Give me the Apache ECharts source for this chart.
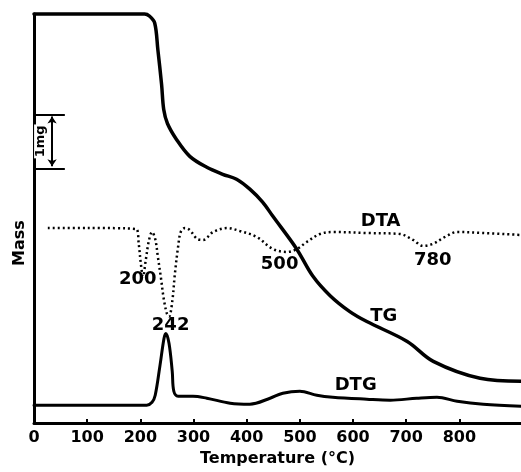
<!DOCTYPE html>
<html>
<head>
<meta charset="utf-8">
<script src="https://cdn.jsdelivr.net/npm/echarts@6/dist/echarts.min.js"></script>
<style>html,body{margin:0;padding:0;background:#fff}#c{width:521px;height:472px}</style>
</head>
<body>
<div id="c"></div>
<script>
// Temperature ticks (°C)
const tickLabels = [0, 100, 200, 300, 400, 500, 600, 700, 800];

// TG (mass, arbitrary units)
const tgTemp = [0, 208, 217, 227, 233, 240, 244, 251, 268, 293, 325, 355, 381, 406, 430, 449, 494, 524, 557, 594, 626, 702, 751, 839, 916];
const tgMass = [411, 411, 409, 402, 375, 340, 315, 301, 285, 268, 257, 250, 245, 235, 222, 208, 175, 148, 128, 112, 102, 82, 62, 45, 42];

// DTG (arbitrary units)
const dtgTemp = [0, 212, 222, 228, 237, 244.5, 248, 254, 260, 263, 271, 299, 325, 369, 406, 444, 468, 500, 532, 562, 626, 670, 720, 758, 796, 845, 916];
const dtgVal  = [18, 18, 21, 28, 58, 85, 90, 80, 52, 32, 27, 27, 25, 20, 19, 25, 30, 32, 28, 26, 24, 23, 25, 26, 22, 19, 17];

// DTA (arbitrary units)
const dtaTemp = [26, 100, 192, 197, 201, 205, 210, 216, 222, 228, 233, 239, 244, 250, 254, 260, 265, 271, 276, 284, 293, 307, 318, 337, 363, 387, 419, 449, 476, 495, 513, 538, 562, 626, 688, 713, 732, 750, 773, 796, 845, 916];
const dtaVal  = [196, 196, 195, 180, 160, 147, 163, 183, 192, 185, 167, 145, 125, 110, 107, 122, 150, 177, 192, 196, 194, 185, 184, 192, 196, 193, 187, 175, 172, 175, 182, 190, 192, 191, 190, 184, 178, 180, 187, 192, 191, 189];

// Annotations
const noteText = ['DTA', '780', 'TG', 'DTG', '500', '200', '242'];
const noteTemp = [652, 750, 658, 605, 462, 195, 257];
const noteVal  = [203, 164, 107, 38, 160, 144, 98];

// Scale bar
const scaleBarLabel = '1mg';
const scaleBarLow = 256, scaleBarHigh = 310;

const FONT = 'DejaVu Sans';
const zip = (a, b) => a.map((v, i) => [v, b[i]]);

const chart = echarts.init(document.getElementById('c'), null, {renderer: 'canvas'});
chart.setOption({
  animation: false,
  backgroundColor: '#fff',
  grid: {left: 34, right: 0, top: 14, bottom: 47},
  xAxis: {
    type: 'value', min: 0, max: 916, interval: 100,
    name: 'Temperature (°C)', nameLocation: 'middle', nameGap: 21,
    nameTextStyle: {fontFamily: FONT, fontWeight: 'bold', fontSize: 16, color: '#000'},
    axisLine: {show: true, lineStyle: {color: '#000', width: 3}},
    axisTick: {show: true, inside: true, length: 4, lineStyle: {color: '#000', width: 2}, customValues: tickLabels.slice(1)},
    axisLabel: {fontFamily: FONT, fontWeight: 'bold', fontSize: 16, color: '#000', margin: 7, customValues: tickLabels},
    splitLine: {show: false}
  },
  yAxis: {
    type: 'value', min: 0, max: 411,
    axisLine: {show: true, lineStyle: {color: '#000', width: 3}},
    axisTick: {show: false}, axisLabel: {show: false}, splitLine: {show: false}
  },
  graphic: [{
    type: 'text', x: 20, y: 243, rotation: Math.PI / 2,
    style: {text: 'Mass', font: 'bold 16px "DejaVu Sans"', fill: '#000', textAlign: 'center', textVerticalAlign: 'middle'}
  }],
  series: [
    {
      name: 'TG', type: 'line', data: zip(tgTemp, tgMass), showSymbol: false, clip: false,
      smooth: 0.35,
      lineStyle: {color: '#000', width: 3.5, join: 'round', cap: 'round'}
    },
    {
      name: 'DTG', type: 'line', data: zip(dtgTemp, dtgVal), showSymbol: false, clip: false,
      smooth: 0.35,
      lineStyle: {color: '#000', width: 3, join: 'round', cap: 'round'}
    },
    {
      name: 'DTA', type: 'line', data: zip(dtaTemp, dtaVal), showSymbol: false, clip: false,
      smooth: 0.35,
      lineStyle: {color: '#000', width: 2.5, type: [2, 3]}
    },
    {
      name: 'notes', type: 'line', data: [], silent: true,
      markPoint: {
        symbol: 'circle', symbolSize: 1, itemStyle: {color: 'rgba(0,0,0,0)'},
        label: {show: true, position: 'inside', fontFamily: FONT, fontWeight: 'bold', fontSize: 18, color: '#000', formatter: p => p.name},
        data: noteText.map((t, i) => ({name: t, coord: [noteTemp[i], noteVal[i]]}))
      },
      markLine: {
        silent: true, symbol: 'none',
        lineStyle: {color: '#000', width: 2, type: 'solid'},
        label: {show: false},
        data: [
          [{coord: [0, scaleBarHigh]}, {coord: [58, scaleBarHigh]}],
          [{coord: [0, scaleBarLow]}, {coord: [58, scaleBarLow]}],
          [{coord: [34, scaleBarLow + 2], symbol: 'arrow', symbolSize: 7},
           {coord: [34, scaleBarHigh - 2], symbol: 'arrow', symbolSize: 7,
            label: {show: true, position: 'middle', formatter: scaleBarLabel, fontFamily: FONT, fontWeight: 'bold', fontSize: 13, color: '#000', backgroundColor: '#fff', padding: [0, 1]}}]
        ]
      }
    }
  ]
});
</script>
</body>
</html>
